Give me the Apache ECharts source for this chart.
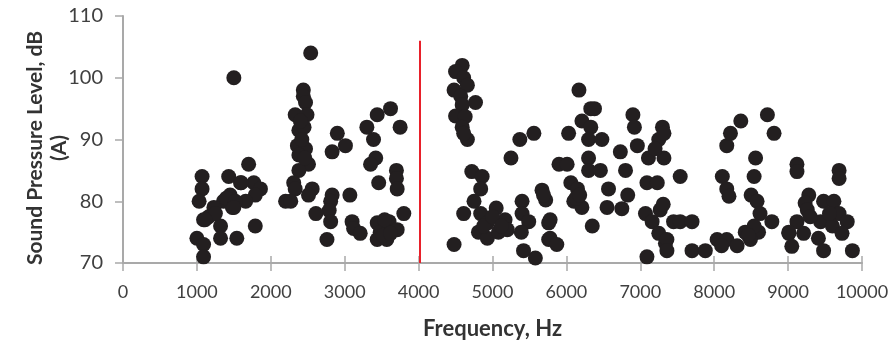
<!DOCTYPE html>
<html>
<head>
<meta charset="utf-8">
<script src="https://cdn.jsdelivr.net/npm/echarts@6/dist/echarts.min.js"></script>
<style>
  html, body { margin: 0; padding: 0; background: #fff; }
  #chart { width: 894px; height: 346px; }
</style>
</head>
<body>
<div id="chart"></div>
<script>
// frequency (Hz) of each measurement
const freq = [
  1500, 1070, 1070, 1030, 1700, 1430, 1590, 1770, 1860, 1790, 1660, 1450, 1360, 1480, 1230, 1160,
  1090, 1320, 1790, 1000, 1090, 1320, 1540, 1090, 2200, 1250, 1400, 1520, 1600, 1110, 1500,
  2540, 2440, 2440, 2470, 2330, 2490, 2380, 2450, 2360, 2470, 2380, 2510, 2380, 2310, 2330, 2560,
  2510, 2270, 2420, 2400, 2460,
  2900, 3010, 2830, 2830, 2810, 2790, 3070, 2610, 2810, 2760, 3100, 3120, 3210, 3300, 3440, 3620,
  3750, 3390, 3420, 3350, 3460, 3700, 3700, 3710, 3800, 3440, 3600, 3710, 3480, 3440, 3570, 3540,
  3520, 3620,
  4590, 4500, 4610, 4480, 4660, 4570, 4770, 4590, 4500, 4630, 4590, 4660, 4610, 4720, 4860, 4840,
  4750, 4610, 4840, 5050, 4930, 5170, 4810, 4930, 5080, 5200, 4480, 4880, 5000, 5120,
  5370, 5560, 5250, 5400, 5400, 5490, 5390, 5420, 5580, 5670, 5720, 5760, 5760,
  6170, 6330, 6380, 6210, 6330, 6030, 6300, 6480, 5900, 6010, 6300, 6300, 6460, 6730, 6800, 6060,
  6150, 6100, 6210, 5690, 6570, 6550, 6750, 6830, 6350, 5780, 5780, 5870, 6130, 6180,
  6900, 6920, 6960, 7110, 7300, 7250, 7090, 7230, 7070, 7270, 7160, 7250, 7340, 7090, 7320, 7320,
  7540, 7310, 7450, 7540, 7700, 7360, 7360, 7700, 7880, 7200,
  8040, 8170, 8310, 8100, 8420, 8600, 8490, 8110, 8170, 8200, 8170, 8220, 8360, 8720, 8810, 8560,
  8540, 8500, 8580, 8620, 8780, 9010, 8540, 8460,
  9120, 9120, 9690, 9690, 9280, 9230, 9480, 9620, 9260, 9690, 9120, 9440, 9800, 9600, 9730, 9010,
  9210, 9410, 9050, 9480, 9870, 9300, 9560
];

// sound pressure level, dB(A)
const spl = [
  100, 84, 82, 80, 86, 84, 83, 83, 82, 81, 80, 81, 80, 79, 79, 77.5,
  77, 76, 76, 74, 73, 74, 74, 71, 80, 78, 80.5, 80, 83, 77, 79,
  104, 98, 97, 96, 94, 94, 91.5, 92, 89, 88.5, 87.5, 86, 85, 83, 82, 82,
  81, 80, 90, 93, 87,
  91, 89, 88, 81, 80, 78.5, 81, 78, 76.7, 73.8, 76.7, 75.6, 74.8, 92, 94, 95,
  92, 90, 87, 86, 83, 85, 83.7, 82, 78, 76.5, 76.7, 75.4, 75, 73.8, 73.8, 77,
  74.5, 74.8,
  102, 101, 100, 98, 98.8, 97, 96, 95.6, 93.8, 93.7, 92, 90, 91, 84.8, 84, 82,
  80, 78, 78, 78.9, 76.5, 77, 75, 74, 75, 75.4, 73, 76, 77.5, 76,
  90, 91, 87, 80, 78, 76.7, 75, 72, 70.8, 81.8, 80.2, 76.5, 73.8,
  98, 95, 95, 93, 92, 91, 90, 90, 86, 86, 87, 85, 85, 88, 85, 83,
  82, 80, 79, 81, 82, 79, 78.8, 81, 76, 77, 74, 73, 80.5, 81,
  94, 92, 89, 87, 92, 90, 83, 83, 78, 78.6, 76.7, 74.8, 73.2, 71, 87, 91,
  84, 79.5, 76.7, 76.7, 76.7, 73.8, 72, 72, 72, 88.5,
  73.8, 73.8, 72.8, 72.8, 75, 75, 73.8, 84, 82, 80.8, 89, 91, 93, 94, 91, 87,
  84, 81, 80, 78, 76.7, 74.8, 76, 74.5,
  86, 84.8, 85, 83.7, 81, 79.7, 80, 80, 78.6, 78, 76.7, 76.7, 76.7, 76, 74.8, 75,
  74.8, 74, 72.7, 72, 72, 77.5, 78
];

// red divider at ~4 kHz
const dividerFreq = 4020;
const dividerTop = 106;

const xTicks = { min: 0, max: 10000, interval: 1000 };
const yTicks = { min: 70, max: 110, interval: 10 };

const yTitle = 'Sound Pressure Level, dB\n(A)';

const points = freq.map((f, i) => [f, spl[i]]);

const chart = echarts.init(document.getElementById('chart'));

const labelFont = 'Lato, "Liberation Sans", sans-serif';
const axisGray = '#a9a9a9';

chart.setOption({
  animation: false,
  grid: { left: 123, right: 32, top: 16, bottom: 83 },
  // y title drawn by hand so it can sit closer to the tick labels
  graphic: [
    {
      type: 'text',
      x: 47,
      y: 148,
      rotation: Math.PI / 2,
      style: {
        text: yTitle,
        fill: '#333',
        font: 'bold 21px ' + labelFont,
        lineHeight: 24,
        align: 'center',
        verticalAlign: 'middle'
      }
    }
  ],
  xAxis: [
    {
      type: 'value',
      ...xTicks,
      name: 'Frequency, Hz',
      nameLocation: 'middle',
      nameGap: 55,
      nameTextStyle: { fontFamily: labelFont, fontWeight: 'bold', fontSize: 22, color: '#333' },
      splitLine: { show: false },
      axisLine: { lineStyle: { color: axisGray, width: 2 } },
      axisTick: { length: 8, lineStyle: { color: axisGray, width: 1.5 } },
      axisLabel: { margin: 20, fontFamily: labelFont, fontSize: 18, color: '#404040', formatter: v => String(v) }
    },
    {
      // second copy only to draw the inward half of the crossing ticks
      type: 'value',
      ...xTicks,
      position: 'bottom',
      splitLine: { show: false },
      axisLine: { show: false },
      axisLabel: { show: false },
      axisTick: { inside: true, length: 7, lineStyle: { color: axisGray, width: 1.5 } }
    }
  ],
  yAxis: {
    type: 'value',
    ...yTicks,
    splitLine: { show: false },
    axisLine: { show: true, lineStyle: { color: axisGray, width: 2 } },
    axisTick: { show: true, length: 8, lineStyle: { color: axisGray, width: 1.5 } },
    axisLabel: { margin: 20, fontFamily: labelFont, fontSize: 20, color: '#404040' }
  },
  series: [
    {
      type: 'scatter',
      data: points,
      symbolSize: 15,
      clip: false,
      itemStyle: { color: '#231f20', opacity: 1 },
      markLine: {
        silent: true,
        symbol: 'none',
        label: { show: false },
        lineStyle: { color: '#e8202a', width: 2, type: 'solid', opacity: 1 },
        data: [[{ coord: [dividerFreq, yTicks.min] }, { coord: [dividerFreq, dividerTop] }]]
      }
    }
  ]
});
</script>
</body>
</html>
